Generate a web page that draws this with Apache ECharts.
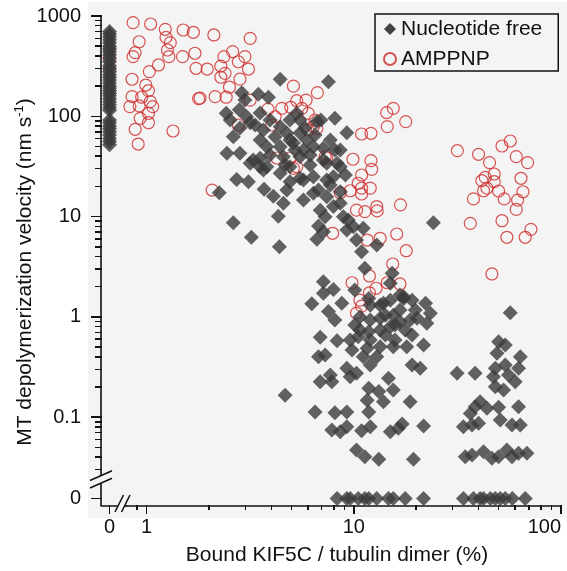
<!DOCTYPE html>
<html>
<head>
<meta charset="utf-8">
<script src="https://cdn.jsdelivr.net/npm/echarts@6/dist/echarts.min.js"></script>
<style>
html, body { margin: 0; padding: 0; background: #fff; }
#wrap { position: relative; width: 567px; height: 571px; overflow: hidden; }
#plotbg { position: absolute; left: 88px; top: 2px; width: 479px; height: 516px; background: #f4f4f4; }
#chart { position: absolute; left: 0; top: 0; width: 567px; height: 571px; }
#ticks { position: absolute; left: 0; top: 0; width: 567px; height: 571px; pointer-events: none; }
#ticks div { position: absolute; background: #111; }
#err { position: absolute; left: 0; top: 540px; width: 90px; font: 7px monospace; color: #c00; overflow: hidden; }
</style>
</head>
<body>
<div id="wrap"><div id="plotbg"></div><div id="chart"></div><div id="ticks"></div><div id="err"></div></div>
<script>
var errs = [];
function showErr(m) { errs.push(m); document.getElementById('err').textContent = errs.join(' | '); }
window.onerror = function (m) { showErr(String(m)); };

// bound KIF5C / tubulin dimer (%) vs MT depolymerization velocity (nm/s)

// nucleotide free, velocities measured at 0 % bound
var freeAtZeroBound = [700, 660, 620, 580, 540, 500, 470, 440, 410, 380, 350, 320, 300, 280, 260, 245,
    230, 215, 200, 190, 180, 170, 160, 150, 140, 130, 122, 115, 92, 86, 80, 75, 70, 65, 60, 56, 52];

// nucleotide free, bound % where velocity was 0
var freeZeroVelocity = [8.3, 9.25, 9.6, 10.5, 11.3, 11.8, 12.9, 14.7, 15.5, 17.7, 21.7,
    33.8, 37.8, 40.7, 42.3, 45.6, 48.2, 50.9, 53.8, 58.2, 67.2];

// nucleotide free [bound %, velocity]
var freePoints = [
    [4.41, 234], [7.54, 221], [2.88, 172], [3.46, 166], [3.87, 155], [2.98, 145], [2.42, 107], [2.8, 116],
    [3.04, 99], [3.53, 108], [5.3, 107], [6.63, 88.4], [9.25, 68.6], [2.82, 76.4], [3.16, 86], [3.66, 73],
    [4.41, 78.8], [4.17, 62.6], [4.75, 67.7], [5.5, 68], [5.93, 58], [2.62, 62.6], [2.44, 42.8], [2.82, 42.8],
    [3.27, 36.7], [3.8, 49.8], [4.41, 49.8], [5.11, 54.2], [6.38, 49.8], [7.13, 48], [7.4, 34], [8.3, 34],
    [4.57, 39.6], [5.5, 39.6], [3.53, 31.4], [2.72, 23.5], [3.1, 22.3], [2.24, 17.3], [2.62, 8.7], [3.2, 6.22],
    [4.37, 5.01], [4.32, 10.1], [3.69, 18.7], [4.09, 16.0], [4.57, 13.6], [4.75, 18.4], [3.8, 31.4], [4.41, 27.0],
    [4.92, 31.4], [3.16, 34], [3.53, 38.1], [3.66, 29.2], [4.92, 22.3], [5.5, 24.1], [6.38, 17.1], [7.4, 23.2],
    [7.97, 25], [8.6, 17.7], [6.88, 11.6], [7.97, 12.6], [6.75, 8.06], [7.13, 7.07], [6.63, 5.94], [8.9, 9.98],
    [9.25, 7.35], [6.15, 32.7], [7.13, 36.7], [8.6, 31.4], [6.93, 91.9], [5.71, 46.1], [5.71, 23.2], [6.38, 25],
    [6.75, 18.4], [7.4, 15.8], [8.6, 13.6], [7.27, 9.98], [9.4, 9.25], [9.95, 7.93], [11.1, 7.64], [10.3, 5.84],
    [12.9, 5.21], [10.9, 4.47], [5.71, 14.6], [24.2, 8.7], [11.3, 3.06], [15.3, 2.72], [17.4, 1.59],
    [3.94, 91.9], [4.92, 91.9], [5.82, 76.4], [7.7, 58], [5.2, 46.1], [6.5, 65.1], [8.1, 46.1], [4.92, 58],
    [3.94, 41.1], [6.15, 41.1], [8.6, 46.1], [9.1, 26], [5.5, 91.9], [3.53, 58], [4.66, 32.7], [7.7, 20.7],
    [3.34, 81.9], [2.53, 92], [8.1, 95.5],
    [15.0, 2.16], [7.13, 2.24], [7.97, 1.88], [7.13, 1.72], [10.1, 1.86], [11.8, 1.53], [6.27, 1.35], [8.75, 1.37],
    [7.54, 1.13], [8.1, 0.93], [13.9, 1.37], [17.4, 1.53], [19.1, 1.47], [22.2, 1.37], [23.4, 1.09], [20.2, 0.97],
    [22.5, 0.863], [10.7, 1.0], [12.0, 0.93], [13.4, 0.97], [15.5, 1.04], [16.7, 1.17], [6.88, 0.626], [8.3, 0.58],
    [10.5, 0.635], [11.8, 0.71], [13.4, 0.74], [15.0, 0.80], [16.7, 0.896], [19.1, 0.66], [21.7, 0.525], [9.8, 0.468],
    [11.6, 0.486], [13.4, 0.505], [15.5, 0.505], [18.0, 0.505], [11.1, 0.40], [12.9, 0.40], [6.75, 0.40], [7.27, 0.417],
    [9.25, 0.307], [10.3, 0.274], [12.0, 0.331], [19.1, 0.331], [20.9, 0.307], [7.7, 0.264], [6.88, 0.226], [7.83, 0.226],
    [9.6, 0.253], [14.7, 0.244], [4.66, 0.166], [11.8, 0.194], [13.2, 0.18], [15.5, 0.187], [11.6, 0.148], [13.9, 0.143],
    [18.7, 0.143], [6.5, 0.113], [8.1, 0.111], [9.25, 0.113], [11.8, 0.113], [7.83, 0.0746], [8.6, 0.0717], [9.25, 0.0804],
    [10.9, 0.0734], [12.0, 0.0804], [15.0, 0.0717], [16.4, 0.0775], [17.1, 0.0855], [21.7, 0.0818], [10.3, 0.0471],
    [11.3, 0.0404], [13.2, 0.038], [19.4, 0.038],
    [12.0, 1.31], [13.4, 1.31], [15.0, 1.47], [14.2, 0.66], [15.8, 0.83], [17.7, 0.74], [10.7, 0.74], [12.0, 0.589],
    [15.8, 0.589], [19.8, 1.17], [16.7, 1.65], [14.2, 1.04], [10.1, 0.83], [9.6, 0.589], [18.7, 0.93],
    [56.9, 1.10], [50.0, 0.566], [53.8, 0.525], [49.1, 0.434], [63.6, 0.40], [31.5, 0.274], [38.5, 0.274], [48.2, 0.307],
    [53.8, 0.331], [62.4, 0.307], [47.2, 0.253], [55.8, 0.264], [60.1, 0.226], [48.2, 0.201], [52.8, 0.187], [40.7, 0.143],
    [38.5, 0.127], [43.9, 0.123], [50.0, 0.126], [62.4, 0.127], [36.5, 0.109], [33.8, 0.0804], [37.2, 0.0836], [40.0, 0.0869],
    [50.9, 0.0938], [58.0, 0.0836], [63.6, 0.0836], [34.5, 0.0404], [37.2, 0.042], [42.3, 0.0453], [46.4, 0.0389],
    [50.0, 0.0404], [54.8, 0.0471], [58.0, 0.0404], [62.4, 0.0437], [68.5, 0.0437]
];

// AMPPNP, velocities at 0 % bound (mostly hidden behind the diamonds)
var amppnpAtZeroBound = [480, 380, 290];

// AMPPNP [bound %, velocity]
var amppnpPoints = [
    [0.86, 858], [1.045, 832], [1.23, 737], [1.24, 613], [1.30, 542], [1.50, 725], [1.68, 688], [2.11, 647],
    [3.16, 599], [0.92, 554], [0.88, 431], [0.86, 393], [1.26, 458], [1.28, 393], [1.49, 393], [1.71, 425],
    [1.14, 325], [1.03, 279], [1.73, 301], [1.96, 296], [0.85, 234], [0.99, 205], [1.02, 180], [0.946, 155],
    [1.04, 140], [0.85, 157], [0.83, 125], [0.92, 127], [1.07, 125], [1.02, 107], [0.93, 95.5], [1.02, 86.3],
    [0.88, 74.2], [1.34, 71.4], [0.91, 52.9], [1.78, 150], [2.14, 157], [2.07, 18.4],
    [2.6, 441], [2.36, 393], [2.98, 393], [2.77, 350], [2.28, 317], [3.1, 296], [2.39, 268], [2.28, 245],
    [2.82, 235], [2.51, 195], [2.42, 155], [1.81, 152], [5.11, 200], [6.67, 172], [5.88, 145], [5.3, 143],
    [4.49, 120], [4.96, 123], [5.61, 120], [6.03, 107], [4.17, 99], [6.5, 91.9], [4.02, 81.9], [6.63, 75.9],
    [3.85, 118], [2.77, 81.9], [6.0, 73], [4.25, 38.4], [4.92, 38.4], [7.4, 38.4], [5.3, 31.4], [3.16, 145],
    [6.38, 78.8], [5.11, 30.3], [7.27, 39.6],
    [14.4, 109], [15.5, 120], [17.8, 88.4], [14.5, 78.8], [10.9, 66.6], [12.1, 67.7], [9.9, 37.3], [12.1, 36.1],
    [12.2, 29.6], [10.9, 26.0], [10.5, 21.5], [10.9, 19.2], [12.0, 19.2], [10.9, 16.8], [9.6, 18.1], [8.6, 17.3],
    [16.8, 13.1], [12.9, 12.6], [12.96, 11.4], [11.3, 11.2], [10.3, 11.6], [16.1, 6.71], [13.4, 6.08], [11.6, 5.84],
    [7.9, 6.82], [17.9, 4.57], [15.4, 3.37], [11.9, 2.56], [9.8, 2.19], [14.5, 2.19], [16.7, 2.13], [12.8, 1.93],
    [11.9, 1.74], [10.7, 1.47], [10.9, 1.28], [10.3, 1.09],
    [31.6, 45.4], [40.0, 41.8], [45.2, 34.5], [51.9, 50.6], [56.9, 56.7], [60.8, 39.6], [69.0, 34.5], [41.5, 22.8],
    [43.1, 24.6], [47.6, 26.6], [47.6, 22.3], [43.9, 19.2], [42.3, 18.1], [50.0, 18.0], [53.2, 15.0], [37.8, 15.0],
    [64.1, 24.1], [65.5, 17.7], [61.7, 14.6], [60.8, 11.8], [36.5, 8.55], [51.9, 9.1], [71.6, 7.47], [67.2, 6.22],
    [54.8, 6.22], [46.4, 2.68]
];

var xMajorTicks = [1, 10, 100];
var xMinorTicks = [0.9, 2, 3, 4, 5, 6, 7, 8, 9, 20, 30, 40, 50, 60, 70, 80, 90];
var yMajorTicks = [0.1, 1, 10, 100, 1000];
var yMinorTicks = [0.03, 0.04, 0.05, 0.06, 0.07, 0.08, 0.09,
    0.2, 0.3, 0.4, 0.5, 0.6, 0.7, 0.8, 0.9,
    2, 3, 4, 5, 6, 7, 8, 9,
    20, 30, 40, 50, 60, 70, 80, 90,
    200, 300, 400, 500, 600, 700, 800, 900];

// layout (px)
var FONT = '"Liberation Sans", Arial, sans-serif';
var INK = '#111';
var AX = 101;     // y axis line
var X0 = 126.6;   // start of log x range (after break)
var XR = 561;     // x = 100
var TOP = 16;     // y = 1000
var YB = 477.6;   // end of log y range (break)
var AY = 505.3;   // x axis line
var BG = '#f4f4f4';

var chart = echarts.init(document.getElementById('chart'), null, { renderer: 'canvas' });

var fmt = function (v) { return String(+(+v).toPrecision(6)); };
function line() { return { show: true, onZero: false, lineStyle: { color: INK, width: 1.6 } }; }
function labels(values, margin) {
    return { show: true, customValues: values, margin: margin, fontSize: 20, color: INK, fontFamily: FONT, formatter: fmt };
}
function hiddenAxis(grid, type, min, max) {
    return { gridIndex: grid, type: type, min: min, max: max, show: false,
        axisLine: { onZero: false }, splitLine: { show: false } };
}

var red = '#cf2b2b';
var dark = '#3b3b3b';

var option = {
    animation: false,
    backgroundColor: 'transparent',
    grid: [
        { left: X0, top: TOP, width: XR - X0, height: YB - TOP },
        { left: AX, top: TOP, width: X0 - AX, height: YB - TOP },
        { left: X0, top: YB, width: XR - X0, height: AY - YB },
        { left: AX, top: YB, width: X0 - AX, height: AY - YB }
    ],
    xAxis: [
        hiddenAxis(0, 'log', 0.8, 100),
        hiddenAxis(1, 'value', -1, 2),
        {
            gridIndex: 2, type: 'log', min: 0.8, max: 100, position: 'bottom',
            axisLine: line(), axisTick: { show: false },
            axisLabel: Object.assign(labels(xMajorTicks, 12), { alignMaxLabel: 'right' }),
            splitLine: { show: false }
        },
        {
            gridIndex: 3, type: 'value', min: -1, max: 2, position: 'bottom',
            axisLine: line(), axisTick: { show: false }, axisLabel: labels([0], 12),
            splitLine: { show: false }
        }
    ],
    yAxis: [
        hiddenAxis(0, 'log', 0.025, 1000),
        {
            gridIndex: 1, type: 'log', min: 0.025, max: 1000, position: 'left',
            axisLine: line(), axisTick: { show: false }, axisLabel: labels(yMajorTicks, 20),
            splitLine: { show: false }
        },
        hiddenAxis(2, 'value', -1, 3),
        {
            gridIndex: 3, type: 'value', min: -1, max: 3, position: 'left',
            axisLine: line(), axisTick: { show: false }, axisLabel: labels([0], 20),
            splitLine: { show: false }
        }
    ],
    legend: {
        orient: 'vertical', left: 375, top: 14,
        padding: [4, 16, 1, 8], itemGap: 8, itemWidth: 12, itemHeight: 12,
        borderColor: INK, borderWidth: 1.5, backgroundColor: BG,
        textStyle: { fontSize: 21, color: INK, fontFamily: FONT, lineHeight: 22 },
        data: [
            { name: 'Nucleotide free', icon: 'diamond', itemStyle: { color: '#151515' } },
            { name: 'AMPPNP', icon: 'circle' }
        ]
    },
    graphic: [
        // y axis break
        { type: 'polygon', z: 100, silent: true, shape: { points: [[89, 481], [113, 470.5], [113, 478], [89, 488.5]] }, style: { fill: BG } },
        { type: 'line', z: 101, silent: true, shape: { x1: 90, y1: 480.5, x2: 112, y2: 470.8 }, style: { stroke: INK, lineWidth: 1.5 } },
        { type: 'line', z: 101, silent: true, shape: { x1: 90, y1: 488, x2: 112, y2: 478.3 }, style: { stroke: INK, lineWidth: 1.5 } },
        // x axis break
        { type: 'polygon', z: 100, silent: true, shape: { points: [[114.5, 513], [123.5, 494.5], [130.5, 494.5], [121.5, 513]] }, style: { fill: BG } },
        { type: 'line', z: 101, silent: true, shape: { x1: 115, y1: 512, x2: 123.5, y2: 495 }, style: { stroke: INK, lineWidth: 1.5 } },
        { type: 'line', z: 101, silent: true, shape: { x1: 121.5, y1: 512, x2: 130, y2: 495 }, style: { stroke: INK, lineWidth: 1.5 } },
        // axis titles
        {
            type: 'text', z: 20, silent: true, x: 337, y: 555,
            style: { text: 'Bound KIF5C / tubulin dimer (%)', font: '21px ' + FONT, fill: INK, align: 'center', verticalAlign: 'middle' }
        },
        {
            type: 'text', z: 20, silent: true, x: 25, y: 272, rotation: Math.PI / 2,
            style: {
                text: '{a|MT depolymerization velocity (nm s}{s|-1}{a|)}',
                align: 'center', verticalAlign: 'middle', fill: INK,
                rich: {
                    a: { fontSize: 21, fontFamily: FONT, fill: INK, lineHeight: 24 },
                    s: { fontSize: 13, fontFamily: FONT, fill: INK, lineHeight: 16, verticalAlign: 'top' }
                }
            }
        }
    ],
    series: [
        {
            name: 'AMPPNP', type: 'scatter', xAxisIndex: 0, yAxisIndex: 0, clip: false, silent: true, z: 2,
            symbol: 'circle', symbolSize: 12,
            itemStyle: { color: 'rgba(0,0,0,0)', borderColor: red, borderWidth: 1.2 },
            data: amppnpPoints
        },
        {
            name: 'AMPPNP', type: 'scatter', xAxisIndex: 1, yAxisIndex: 1, clip: false, silent: true, z: 2,
            symbol: 'circle', symbolSize: 12,
            itemStyle: { color: 'rgba(0,0,0,0)', borderColor: red, borderWidth: 1.2 },
            data: amppnpAtZeroBound.map(function (v) { return [0, v]; })
        },
        {
            name: 'Nucleotide free', type: 'scatter', xAxisIndex: 0, yAxisIndex: 0, clip: false, silent: true, z: 3,
            symbol: 'diamond', symbolSize: 15, itemStyle: { color: dark },
            data: freePoints
        },
        {
            name: 'Nucleotide free', type: 'scatter', xAxisIndex: 1, yAxisIndex: 1, clip: false, silent: true, z: 3,
            symbol: 'diamond', symbolSize: 15, itemStyle: { color: dark },
            data: freeAtZeroBound.map(function (v) { return [0, v]; })
        },
        {
            name: 'Nucleotide free', type: 'scatter', xAxisIndex: 2, yAxisIndex: 2, clip: false, silent: true, z: 3,
            symbol: 'diamond', symbolSize: 15, itemStyle: { color: dark },
            data: freeZeroVelocity.map(function (b) { return [b, 0]; })
        }
    ]
};

try { chart.setOption(option); } catch (e) { showErr('set: ' + e.message); }

// tick marks: pixel positions come from the axes' own scales
function axisPixel(dim, axisIndex, v) {
    var p;
    try {
        var finder = {};
        finder[dim + 'AxisIndex'] = axisIndex;
        p = chart.convertToPixel(finder, v);
    } catch (e) { showErr('cvt: ' + e.message); }
    if (typeof p !== 'number' || !isFinite(p)) {
        try {
            var ax = chart.getModel().getComponent(dim + 'Axis', axisIndex).axis;
            p = ax.toGlobalCoord(ax.dataToCoord(v));
        } catch (e) { showErr('ax: ' + e.message); }
    }
    return p;
}

var tickBox = document.getElementById('ticks');
var count = 0;
function addTick(left, top, w, h) {
    var d = document.createElement('div');
    d.style.left = left + 'px';
    d.style.top = top + 'px';
    d.style.width = w + 'px';
    d.style.height = h + 'px';
    tickBox.appendChild(d);
    count++;
}
function yTick(axisIndex, v, len) {
    var y = axisPixel('y', axisIndex, v);
    if (typeof y === 'number' && isFinite(y)) addTick(AX - len, y - 0.75, len + 0.5, 1.5);
}
function xTick(axisIndex, v, len) {
    var x = axisPixel('x', axisIndex, v);
    if (typeof x === 'number' && isFinite(x)) addTick(x - 0.75, AY - 0.5, 1.5, len + 0.5);
}
yMajorTicks.forEach(function (v) { yTick(1, v, 10); });
yMinorTicks.forEach(function (v) { yTick(1, v, 6); });
xMajorTicks.forEach(function (v) { xTick(2, v, 9); });
xMinorTicks.forEach(function (v) { xTick(2, v, 5); });
yTick(3, 0, 10);
xTick(3, 0, 9);
if (count === 0) showErr('no ticks');

window.addEventListener('resize', chart.resize);
</script>
</body>
</html>
